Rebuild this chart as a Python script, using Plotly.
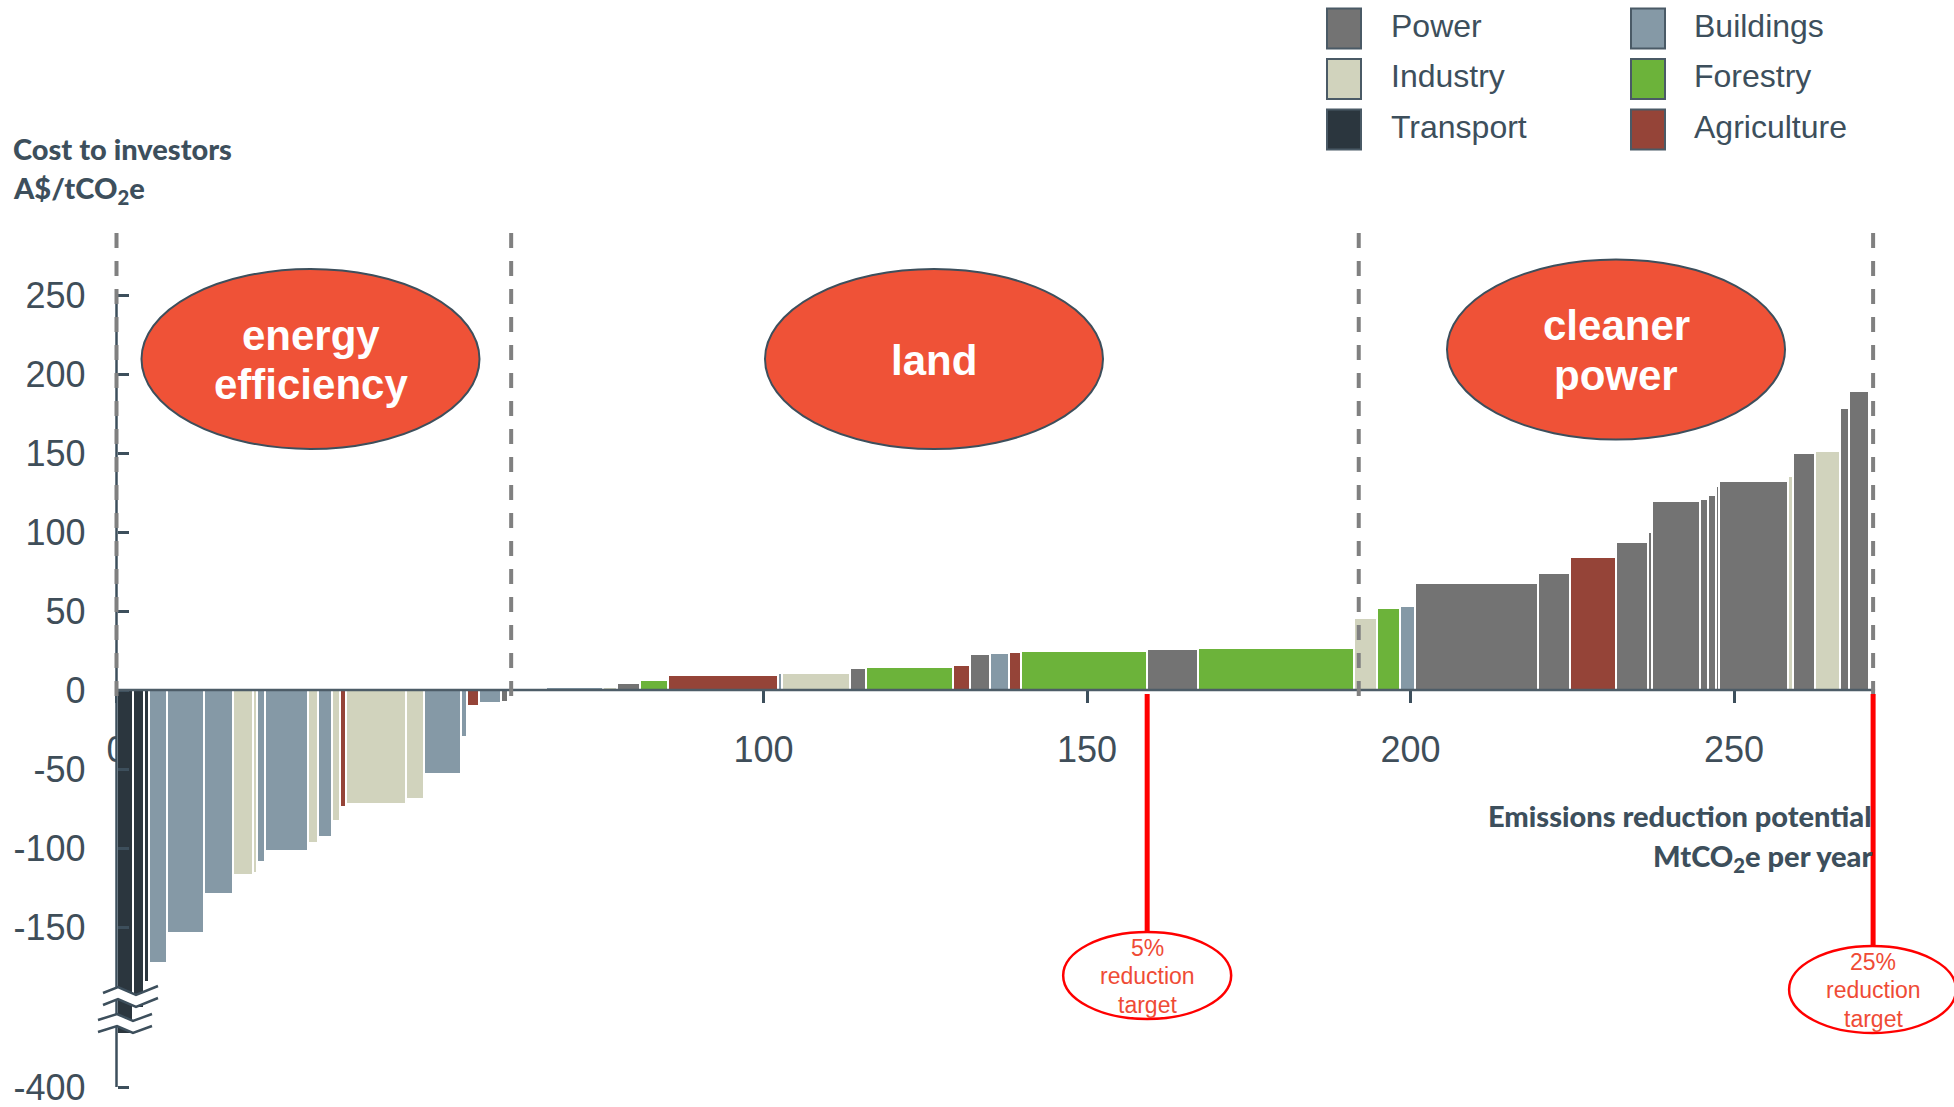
import numpy as np
import plotly.graph_objects as go

W, H = 1954, 1107

# Abatement measures, in merit order: sector, potential (MtCO2e/yr) and cost (A$/tCO2e)
sectors = [
    "Transport", "Transport", "Transport", "Buildings", "Buildings", "Buildings",
    "Industry", "Industry", "Buildings", "Buildings", "Industry", "Buildings",
    "Industry", "Agriculture", "Industry", "Industry", "Buildings", "Buildings",
    "Agriculture", "Buildings", "Power",
    "Power",
    "Buildings", "Industry", "Power", "Forestry", "Agriculture", "Buildings",
    "Industry", "Power", "Forestry", "Agriculture", "Power", "Buildings",
    "Agriculture", "Forestry", "Power", "Forestry", "Industry", "Forestry",
    "Buildings", "Power", "Power", "Agriculture", "Power", "Power", "Power",
    "Power", "Power", "Power", "Power", "Industry", "Power", "Industry",
    "Power", "Power",
]
potential = [
    2.5, 1.8, 0.7, 2.8, 5.7, 4.45, 3.15, 0.55, 1.35, 6.65, 1.45, 2.2, 1.2, 0.95,
    9.35, 2.8, 5.7, 0.85, 1.85, 3.4, 1.1,
    5.9,
    8.8, 2.1, 3.65, 4.3, 17.0, 0.55, 10.6, 2.45, 13.4, 2.7, 3.05, 2.9, 1.9,
    19.5, 7.8, 24.2, 3.45, 3.6, 2.3, 19.05, 4.95, 7.05, 4.95, 0.65, 7.4, 1.35,
    1.2, 0.5, 10.6, 0.75, 3.4, 3.95, 1.3, 3.15,
]
cost = [
    -218, -201, -185, -173, -154, -129, -117, -116, -109, -102, -97, -93, -83,
    -74, -72, -69, -53, -30, -10, -8.5, -7.5,
    0,
    2.2, 2.2, 4.2, 6.3, 9.7, 11, 11, 14.1, 14.6, 16, 22.6, 23.2, 24, 24.9,
    25.9, 26.8, 45.6, 51.7, 53.2, 67.5, 73.8, 84.4, 93.7, 100.2, 119.6, 121.1,
    123.2, 129, 132.3, 135.4, 149.8, 151.5, 178.3, 189.2,
]

sector_colors = {
    "Power": "#737373",
    "Industry": "#d1d3bd",
    "Transport": "#2b363e",
    "Buildings": "#8599a6",
    "Forestry": "#6cb33a",
    "Agriculture": "#954438",
}
legend_columns = [["Power", "Industry", "Transport"], ["Buildings", "Forestry", "Agriculture"]]

# Group boundaries (dashed) and reduction targets (red)
group_bounds = [0, 61.0, 192.0, 271.5]
group_labels = [["energy", "efficiency"], ["land"], ["cleaner", "power"]]
targets = [159.3, 271.5]
target_labels = ["5%", "25%"]

# The y axis is broken below -150: the -400 tick sits just under the break
y_tickvals = [250, 200, 150, 100, 50, 0, -50, -100, -150, -251.3]
y_ticktext = ["250", "200", "150", "100", "50", "0", "-50", "-100", "-150", "-400"]
x_tickvals = [0, 50, 100, 150, 200, 250]

# Axis scaling (pixels per unit) and origin placement on the canvas
X0_PX, PX_PER_X = 116.5, 6.47
Y0_PX, PX_PER_Y = 690.0, 1.58
x_range = [-X0_PX / PX_PER_X, (W - X0_PX) / PX_PER_X]
y_range = [-(H - Y0_PX) / PX_PER_Y, Y0_PX / PX_PER_Y]

INK = "#3d4f5c"


def px(x):
    return x / W


def py(y):
    return 1 - y / H


def dy(y_px):
    """Canvas pixel row to axis value."""
    return (Y0_PX - y_px) / PX_PER_Y


widths = np.array(potential)
lefts = np.concatenate([[0], np.cumsum(widths)[:-1]])
centers = lefts + widths / 2

fig = go.Figure()
fig.add_trace(go.Bar(
    x=centers, y=cost, width=widths,
    marker=dict(color=[sector_colors[s] for s in sectors],
                line=dict(color="white", width=2)),
    hovertext=sectors, showlegend=False,
))

shapes = []
annotations = []

# Axis lines
shapes.append(dict(type="line", xref="x", yref="y", x0=0, x1=271.8, y0=0, y1=0,
                   line=dict(color="#4d5c67", width=2.5), layer="above"))
shapes.append(dict(type="line", xref="x", yref="y", x0=0, x1=0, y0=250, y1=y_tickvals[-1],
                   line=dict(color=INK, width=2.5), layer="above"))

# Axis break marks on the lower y axis
def zigzag(pts):
    return "M " + " L ".join(f"{px(a)},{py(b)}" for a, b in pts)

for top in ([(103, 993), (118, 987), (136, 995), (158, 986)],
            [(98, 1020), (117, 1014), (133, 1021), (152, 1014)]):
    bottom = [(a, b + 12) for a, b in top]
    band = zigzag(top + bottom[::-1]) + " Z"
    shapes.append(dict(type="path", xref="paper", yref="paper", path=band,
                       fillcolor="white", line=dict(width=0), layer="above"))
    for edge in (top, bottom):
        shapes.append(dict(type="path", xref="paper", yref="paper", path=zigzag(edge),
                           line=dict(color=INK, width=2.5), layer="above"))

# Dashed group separators
for xb in group_bounds:
    shapes.append(dict(type="line", xref="x", yref="y", x0=xb, x1=xb,
                       y0=dy(233), y1=dy(697),
                       line=dict(color="#808080", width=4, dash="15px,13px"),
                       layer="above"))

# Group ellipses
ellipse_px = [(310.5, 359), (934, 359), (1616, 349.5)]
for (cx, cy), lines in zip(ellipse_px, group_labels):
    shapes.append(dict(type="circle", xref="paper", yref="paper",
                       x0=px(cx - 169), x1=px(cx + 169), y0=py(cy + 90), y1=py(cy - 90),
                       fillcolor="#ef5237", line=dict(color=INK, width=2), layer="above"))
    n = len(lines)
    for i, line in enumerate(lines):
        ly = cy + 1 + (i - (n - 1) / 2) * 50
        annotations.append(dict(xref="paper", yref="paper", x=px(cx), y=py(ly),
                                text=f"<b>{line}</b>", showarrow=False,
                                xanchor="center", yanchor="middle",
                                font=dict(family="Liberation Sans, Arial", size=42,
                                          color="white")))

# Reduction targets
target_circle_py = [975.5, 989.5]
target_top_py = [932, 946]
for xt, lab, cyp, top_py in zip(targets, target_labels, target_circle_py, target_top_py):
    shapes.append(dict(type="line", xref="x", yref="y", x0=xt, x1=xt,
                       y0=dy(694), y1=dy(top_py),
                       line=dict(color="#ff0000", width=5), layer="above"))
    cxp = X0_PX + xt * PX_PER_X
    shapes.append(dict(type="circle", xref="paper", yref="paper",
                       x0=px(cxp - 84), x1=px(min(cxp + 84, W + 2)),
                       y0=py(cyp + 43.5), y1=py(cyp - 43.5),
                       fillcolor="white", line=dict(color="#ff0000", width=2.5),
                       layer="above"))
    for i, line in enumerate([lab, "reduction", "target"]):
        annotations.append(dict(xref="paper", yref="paper", x=px(cxp),
                                y=py(cyp - 28 + 28.5 * i), text=line, showarrow=False,
                                xanchor="center", yanchor="middle",
                                font=dict(family="Liberation Sans, Arial", size=23,
                                          color="#ef4b36")))

# Legend
for col, (sq_x, txt_x) in zip(legend_columns, [(1327, 1389), (1631, 1692)]):
    for i, name in enumerate(col):
        cy = 28.6 + 50.5 * i
        shapes.append(dict(type="rect", xref="paper", yref="paper",
                           x0=px(sq_x), x1=px(sq_x + 34), y0=py(cy + 20), y1=py(cy - 20),
                           fillcolor=sector_colors[name], line=dict(color="#4a5a66", width=2),
                           layer="above"))
        annotations.append(dict(xref="paper", yref="paper", x=px(txt_x), y=py(cy - 3),
                                text=name, showarrow=False, xanchor="left", yanchor="middle",
                                font=dict(family="Liberation Sans, Arial", size=32, color=INK)))

# Axis titles
title_font = dict(family="Lato, Open Sans", size=29, color=INK, weight=900)
annotations += [
    dict(xref="paper", yref="paper", x=px(11), y=py(148), text="Cost to investors",
         showarrow=False, xanchor="left", yanchor="middle", font=title_font),
    dict(xref="paper", yref="paper", x=px(11), y=py(189),
         text="A$/tCO<sub>2</sub>e",
         showarrow=False, xanchor="left", yanchor="middle", font=title_font),
    dict(xref="paper", yref="paper", x=px(1874), y=py(815),
         text="Emissions reduction potential",
         showarrow=False, xanchor="right", yanchor="middle", font=title_font),
    dict(xref="paper", yref="paper", x=px(1874), y=py(857),
         text="MtCO<sub>2</sub>e per year",
         showarrow=False, xanchor="right", yanchor="middle", font=title_font),
]

tick_font = dict(family="Liberation Sans, Arial", size=36, color="#3f4e59")

fig.update_layout(
    width=W, height=H,
    margin=dict(l=0, r=0, t=0, b=0),
    paper_bgcolor="white", plot_bgcolor="white",
    showlegend=False, bargap=0,
    shapes=shapes, annotations=annotations,
    xaxis=dict(range=x_range, anchor="free", position=py(Y0_PX),
               tickvals=x_tickvals, ticktext=[str(v) for v in x_tickvals],
               ticks="outside", ticklen=12, tickwidth=2.5, tickcolor=INK,
               tickfont=tick_font, ticklabelstandoff=16, ticklabeloverflow="allow",
               showgrid=False, zeroline=False, showline=False,
               layer="below traces", fixedrange=True),
    yaxis=dict(range=y_range, anchor="free", position=px(X0_PX),
               tickvals=y_tickvals, ticktext=y_ticktext,
               ticks="inside", ticklen=11, tickwidth=2.5, tickcolor=INK,
               tickfont=tick_font, ticklabelstandoff=31, ticklabeloverflow="allow",
               showgrid=False, zeroline=False, showline=False,
               layer="above traces", fixedrange=True),
)

fig.write_html("out.html", config={"displayModeBar": False})
